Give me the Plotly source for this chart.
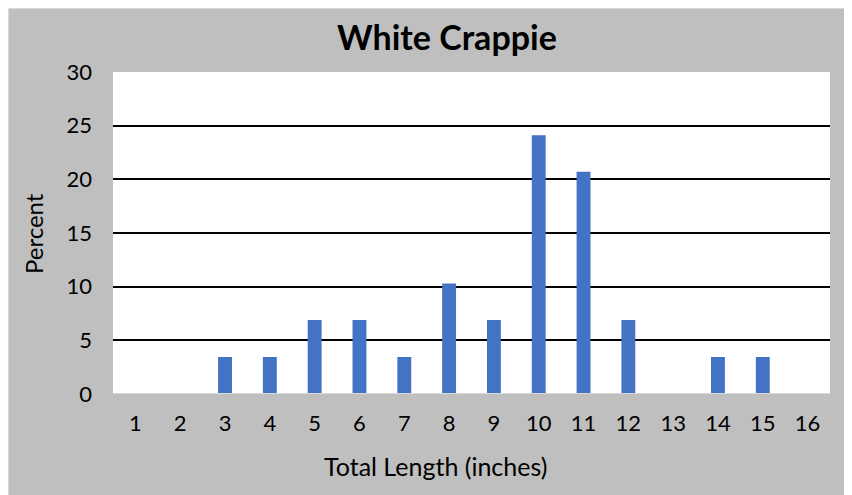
import plotly.graph_objects as go

lengths = list(range(1, 17))
percent = [0, 0, 3.45, 3.45, 6.9, 6.9, 3.45, 10.3, 6.9, 24.1, 20.7, 6.9, 0, 3.45, 3.45, 0]
y_ticks = [0, 5, 10, 15, 20, 25, 30]

OFF = 8  # page body margin
W, H = 852 - OFF, 495 - OFF
L, R, T, B = 113 - OFF, 22, 72 - OFF, 495 - 394
pw, ph = W - L - R, H - T - B

def px(x):
    # page x -> paper fraction
    return (x - OFF - L) / pw

def py(y):
    # page y -> paper fraction
    return (H - B - (y - OFF)) / ph

FONT = "Lato"

fig = go.Figure()
fig.add_trace(go.Bar(x=lengths, y=percent, marker=dict(color="#4472C4", line=dict(width=0)), width=0.31))

fig.update_layout(
    width=W, height=H,
    margin=dict(l=L, r=R, t=T, b=B),
    paper_bgcolor="#BFBFBF",
    plot_bgcolor="white",
    showlegend=False,
    font=dict(family=FONT, color="#000000", size=22),
    xaxis=dict(
        range=[0.5, 16.5], tickmode="array", tickvals=lengths, ticktext=[str(v) for v in lengths],
        showgrid=False, zeroline=False, showline=False, ticks="", ticklabelstandoff=14,
        tickfont=dict(size=22, family=FONT, color="#000"),
    ),
    yaxis=dict(
        range=[0, 30], tickmode="array", tickvals=y_ticks, showgrid=True, gridcolor="#000000",
        gridwidth=1.5, zeroline=False, showline=False, ticks="", ticklabelstandoff=20,
        tickfont=dict(size=22, family=FONT, color="#000"),
    ),
    shapes=[
        dict(type="line", xref="paper", yref="y", x0=0, x1=1, y0=0, y1=0,
             line=dict(color="#D9D9D9", width=2), layer="above"),
        dict(type="line", xref="paper", yref="paper", x0=px(OFF + 0.5), x1=px(OFF + 0.5), y0=py(OFF), y1=py(495),
             line=dict(color="#D9D9D9", width=1), layer="below"),
        dict(type="line", xref="paper", yref="paper", x0=px(OFF), x1=px(852), y0=py(OFF + 0.5), y1=py(OFF + 0.5),
             line=dict(color="#D9D9D9", width=1), layer="below"),
    ],
    annotations=[
        dict(text="<b>White Crappie</b>", xref="paper", yref="paper", x=px(447), y=py(37),
             showarrow=False, xanchor="center", yanchor="middle",
             font=dict(size=34, family=FONT, color="#000")),
        dict(text="Percent", xref="paper", yref="paper", x=px(34), y=py(234), textangle=-90,
             showarrow=False, xanchor="center", yanchor="middle",
             font=dict(size=24, family=FONT, color="#000")),
        dict(text="Total Length (inches)", xref="paper", yref="paper", x=px(435), y=py(466),
             showarrow=False, xanchor="center", yanchor="middle",
             font=dict(size=25, family=FONT, color="#000")),
    ],
)

fig.write_html("out.html")
